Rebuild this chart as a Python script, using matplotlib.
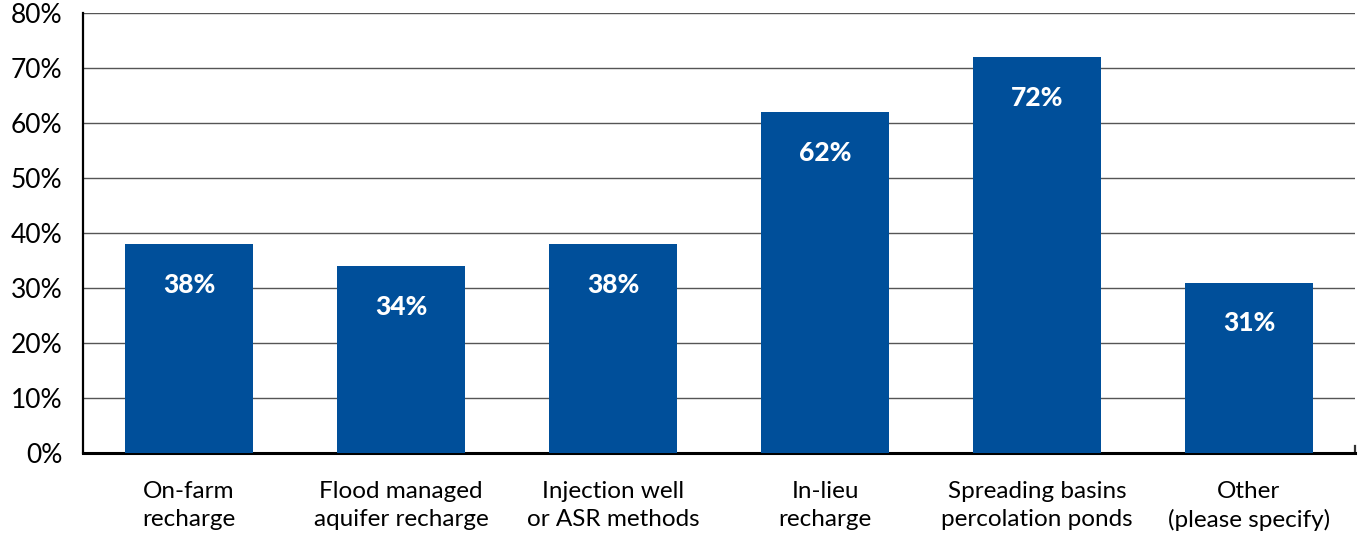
import matplotlib
matplotlib.use("Agg")
import matplotlib.pyplot as plt
from matplotlib.ticker import FuncFormatter

categories = [
    "On-farm\nrecharge",
    "Flood managed\naquifer recharge",
    "Injection well\nor ASR methods",
    "In-lieu\nrecharge",
    "Spreading basins\npercolation ponds",
    "Other\n(please specify)",
]
values = [38, 34, 38, 62, 72, 31]
y_ticks = [0, 10, 20, 30, 40, 50, 60, 70, 80]

bar_color = "#004F9A"

plt.rcParams["font.family"] = ["Lato", "DejaVu Sans"]

fig = plt.figure(figsize=(13.59, 5.33), dpi=100)
ax = fig.add_axes([83 / 1359, 1 - 453 / 533, (1355 - 83) / 1359, 440 / 533])

x = list(range(len(categories)))
bars = ax.bar(x, values, width=0.6, color=bar_color, zorder=3)

for xi, v in zip(x, values):
    ax.annotate(f"{v}%", (xi, v), xytext=(0, -29.5), textcoords="offset points",
                ha="center", va="center", color="white", fontsize=19,
                fontweight="black", zorder=4)

ax.set_xlim(-0.5, 5.5)
ax.set_ylim(0, 80)
ax.set_yticks(y_ticks)
ax.yaxis.set_major_formatter(FuncFormatter(lambda v, _: f"{v:.0f}%"))
ax.set_xticks(x)
ax.set_xticklabels(categories, fontsize=17.5, linespacing=1.36)
ax.tick_params(axis="y", length=0, pad=15, labelsize=19)
ax.tick_params(axis="x", length=0, pad=20.5)

ax.grid(axis="y", color="#555555", linewidth=1.0, zorder=1)
ax.set_axisbelow(True)

ax.spines["top"].set_visible(False)
ax.spines["left"].set_linewidth(1.6)
ax.spines["left"].set_color("black")
ax.spines["bottom"].set_linewidth(2.2)
ax.spines["bottom"].set_color("black")
ax.spines["right"].set_bounds(0, 1.2)
ax.spines["right"].set_linewidth(1.6)
ax.spines["right"].set_color("#333333")

fig.savefig("out.png", dpi=100)
